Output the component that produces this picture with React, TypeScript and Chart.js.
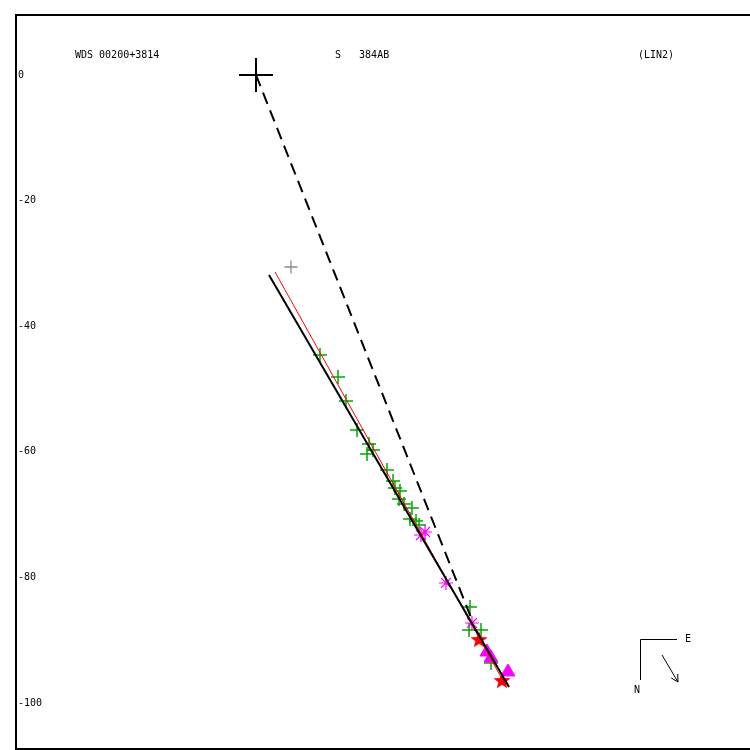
import React, { useEffect, useRef } from "react";
import { Chart, registerables } from "chart.js";

Chart.register(...registerables);

// ---- text ----
const titleLeft = "WDS 00200+3814";
const titleMid = "S   384AB";
const titleRight = "(LIN2)";
const yTicks = [-100, -80, -60, -40, -20, 0];

// ---- data (plot units) ----
const primaryStar = [{ x: 0, y: 0 }];
const fitLine = [{ x: 2.07, y: -31.85 }, { x: 40.29, y: -97.45 }];
const trendLine = [{ x: 3.03, y: -31.37 }, { x: 39.81, y: -97.29 }];
const radiusLine = [{ x: 0, y: 0 }, { x: 34.39, y: -86.78 }];

const greenCrossX = [10.19, 13.06, 14.33, 16.08, 17.99, 18.63, 17.68, 20.86, 21.82, 22.13, 22.93, 22.77, 23.57, 24.84, 24.52, 25.48, 25.96, 34.08, 33.92, 35.83, 37.42];
const greenCrossY = [-44.59, -48.09, -51.91, -56.53, -58.76, -59.71, -60.35, -62.9, -64.65, -65.76, -66.24, -67.52, -68.31, -68.95, -70.7, -71.02, -71.66, -84.71, -88.38, -88.38, -93.63];
const greyCrossX = [5.57];
const greyCrossY = [-30.57];
const asteriskX = [26.27, 26.91, 30.25, 34.39];
const asteriskY = [-73.25, -72.77, -80.89, -87.26];
const redStarX = [35.51, 39.17];
const redStarY = [-89.97, -96.5];
const triangleX = [36.78, 37.42, 40.13];
const triangleY = [-91.88, -92.83, -95.06];

const zip = (xs: number[], ys: number[]) => xs.map((x, i) => ({ x, y: ys[i] }));

function makeFilledStar(color: string, rOuter: number, rInner: number) {
  const size = Math.ceil(rOuter * 2 + 2);
  const c = document.createElement("canvas");
  c.width = size;
  c.height = size;
  const ctx = c.getContext("2d")!;
  const cx = size / 2, cy = size / 2;
  ctx.beginPath();
  for (let i = 0; i < 10; i++) {
    const r = i % 2 === 0 ? rOuter : rInner;
    const a = -Math.PI / 2 + (i * Math.PI) / 5;
    const px = cx + r * Math.cos(a), py = cy + r * Math.sin(a);
    if (i === 0) ctx.moveTo(px, py); else ctx.lineTo(px, py);
  }
  ctx.closePath();
  ctx.fillStyle = color;
  ctx.fill();
  return c;
}

const FONT = '10px "DejaVu Sans Mono", monospace';

const decorPlugin = {
  id: "decor",
  afterDraw(chart: any) {
    const { ctx, chartArea } = chart;
    ctx.save();
    // frame
    ctx.strokeStyle = "#000";
    ctx.lineWidth = 2;
    ctx.strokeRect(chartArea.left, chartArea.top, chartArea.right - chartArea.left, chartArea.bottom - chartArea.top);
    // titles
    ctx.fillStyle = "#000";
    ctx.font = FONT;
    ctx.textBaseline = "middle";
    ctx.textAlign = "left";
    ctx.fillText(titleLeft, 75, 55);
    ctx.fillText(titleMid, 335, 55);
    ctx.fillText(titleRight, 638, 55);
    // compass
    ctx.lineWidth = 1;
    ctx.beginPath();
    ctx.moveTo(640.5, 680);
    ctx.lineTo(640.5, 639.5);
    ctx.lineTo(677, 639.5);
    ctx.stroke();
    ctx.fillText("E", 685, 639);
    ctx.fillText("N", 634, 690);
    const x0 = 662, y0 = 655, x1 = 678, y1 = 682;
    ctx.beginPath();
    ctx.moveTo(x0, y0);
    ctx.lineTo(x1, y1);
    const ang = Math.atan2(y1 - y0, x1 - x0);
    const hl = 8;
    ctx.moveTo(x1, y1);
    ctx.lineTo(x1 - hl * Math.cos(ang - 0.5), y1 - hl * Math.sin(ang - 0.5));
    ctx.moveTo(x1, y1);
    ctx.lineTo(x1 - hl * Math.cos(ang + 0.5), y1 - hl * Math.sin(ang + 0.5));
    ctx.stroke();
    ctx.restore();
  },
};

export default function App() {
  const ref = useRef<HTMLCanvasElement>(null);
  useEffect(() => {
    const starImg = makeFilledStar("#ff0000", 9, 3.8);
    const lineDs = (data: any[], color: string, width: number, dash: number[] = []) => ({
      data,
      showLine: true,
      borderColor: color,
      borderWidth: width,
      borderDash: dash,
      pointRadius: 0,
      fill: false,
    });
    const chart = new Chart(ref.current!, {
      type: "scatter",
      data: {
        datasets: [
          lineDs(radiusLine, "#000", 2, [12, 7]),
          lineDs(fitLine, "#000", 2),
          lineDs(trendLine, "#ff0000", 1),
          {
            data: primaryStar,
            pointStyle: "cross",
            pointRadius: 17,
            borderColor: "#000",
            borderWidth: 2,
          },
          {
            data: zip(triangleX, triangleY),
            pointStyle: "triangle",
            pointRadius: 8,
            backgroundColor: "#ff00ff",
            borderColor: "#ff00ff",
            borderWidth: 1,
          },
          {
            data: zip(redStarX, redStarY),
            pointStyle: starImg as any,
            pointRadius: 9,
          },
          {
            data: zip(asteriskX, asteriskY),
            pointStyle: "star",
            pointRadius: 7,
            borderColor: "#ff00ff",
            borderWidth: 1.2,
          },
          {
            data: zip(greenCrossX, greenCrossY),
            pointStyle: "cross",
            pointRadius: 7,
            borderColor: "#00a800",
            borderWidth: 1.5,
          },
          {
            data: zip(greyCrossX, greyCrossY),
            pointStyle: "cross",
            pointRadius: 6.5,
            borderColor: "#8a8a8a",
            borderWidth: 1.3,
          },
        ] as any,
      },
      options: {
        responsive: false,
        devicePixelRatio: 1,
        animation: false,
        events: [],
        layout: { autoPadding: false, padding: { left: 12, top: 15, right: 8, bottom: 11 } },
        plugins: { legend: { display: false }, tooltip: { enabled: false } },
        scales: {
          x: { type: "linear", display: false, min: -38.217, max: 78.98 },
          y: {
            type: "linear",
            position: "left",
            min: -107.325,
            max: 9.554,
            grid: { display: false, drawTicks: false },
            border: { display: false },
            afterBuildTicks: (axis: any) => {
              axis.ticks = yTicks.map((v) => ({ value: v }));
            },
            ticks: {
              mirror: true,
              padding: 2,
              color: "#000",
              font: { family: '"DejaVu Sans Mono", monospace', size: 10 },
              callback: (v: any) => String(v),
            },
          },
        },
      } as any,
      plugins: [decorPlugin],
    });
    return () => chart.destroy();
  }, []);
  return (
    <div style={{ position: "fixed", left: 0, top: 0, width: 750, height: 750, overflow: "hidden", background: "#fff" }}>
      <canvas ref={ref} width={760} height={760} style={{ display: "block", width: 760, height: 760 }} />
    </div>
  );
}
